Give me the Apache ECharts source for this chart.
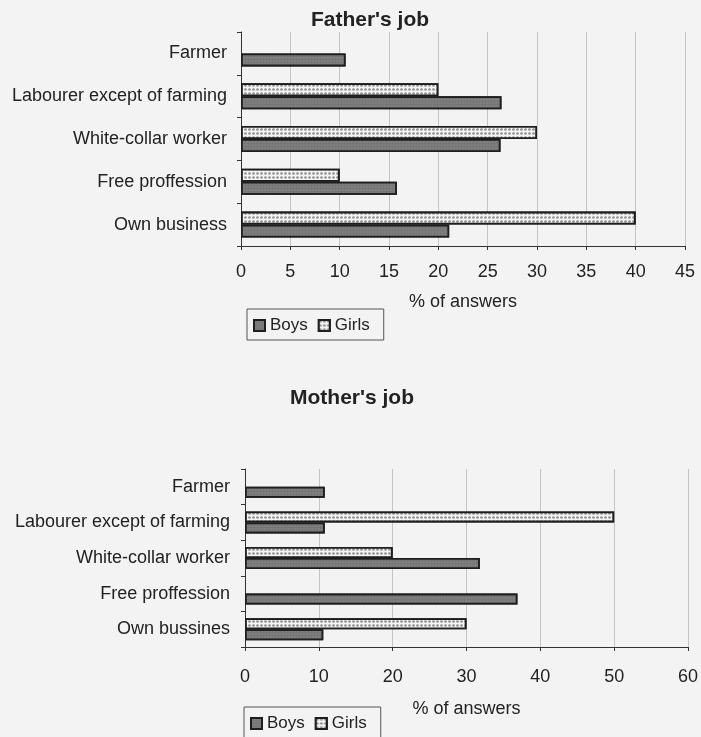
<!DOCTYPE html>
<html>
<head>
<meta charset="utf-8">
<script src="https://cdn.jsdelivr.net/npm/echarts@6/dist/echarts.min.js"></script>
<style>
  html, body { margin: 0; padding: 0; background: #f3f3f3; }
  #chart { width: 701px; height: 737px; }
</style>
</head>
<body>
<div id="chart"></div>
<script>
// Father's job (top panel), categories listed bottom to top
const fatherCategories = ['Own business', 'Free proffession', 'White-collar worker', 'Labourer except of farming', 'Farmer'];
const fatherBoys = [21.1, 15.8, 26.3, 26.4, 10.6];
const fatherGirls = [40, 10, 30, 20, null];
const fatherTicks = [0, 5, 10, 15, 20, 25, 30, 35, 40, 45];

// Mother's job (bottom panel), categories listed bottom to top
const motherCategories = ['Own bussines', 'Free proffession', 'White-collar worker', 'Labourer except of farming', 'Farmer'];
const motherBoys = [10.6, 36.9, 31.8, 10.8, 10.8];
const motherGirls = [30, null, 20, 50, null];
const motherTicks = [0, 10, 20, 30, 40, 50, 60];

const seriesNames = ['Boys', 'Girls'];

const fontFamily = '"Liberation Sans", Arial, sans-serif';
const textColor = '#222';

const boysStyle = {
  color: '#7a7a7a',
  borderColor: '#1e1e1e',
  borderWidth: 1.8,
  decal: {
    symbol: 'rect',
    symbolSize: 0.6,
    dashArrayX: [2, 1],
    dashArrayY: [2, 1],
    color: 'rgba(185,185,185,0.5)',
    backgroundColor: '#767676'
  }
};
const girlsStyle = {
  color: '#f2f2f2',
  borderColor: '#1e1e1e',
  borderWidth: 1.8,
  decal: {
    symbol: 'circle',
    symbolSize: 0.9,
    dashArrayX: [3, 1],
    dashArrayY: [3, 1],
    color: 'rgba(80,80,80,0.6)',
    backgroundColor: '#f4f4f4'
  }
};

function valueAxis(gridIndex, ticks, gap, margin) {
  return {
    type: 'value',
    gridIndex: gridIndex,
    min: ticks[0],
    max: ticks[ticks.length - 1],
    interval: ticks[1] - ticks[0],
    name: '% of answers',
    nameLocation: 'middle',
    nameGap: gap,
    nameTextStyle: { fontFamily: fontFamily, fontSize: 18, color: textColor },
    axisLine: { show: true, lineStyle: { color: '#333', width: 1 } },
    axisTick: { show: true, inside: false, length: 4, lineStyle: { color: '#333' } },
    axisLabel: { fontFamily: fontFamily, fontSize: 18, color: textColor, margin: margin },
    splitLine: { show: true, lineStyle: { color: '#c4c4c4', width: 1 } }
  };
}

function categoryAxis(gridIndex, cats, margin) {
  return {
    type: 'category',
    gridIndex: gridIndex,
    data: cats,
    axisLine: { show: true, lineStyle: { color: '#333', width: 1 } },
    axisTick: { show: true, inside: false, length: 4, alignWithLabel: false, lineStyle: { color: '#333' } },
    axisLabel: { fontFamily: fontFamily, fontSize: 18, color: textColor, margin: margin },
    splitLine: { show: false }
  };
}

function barSeries(name, axisIndex, data, style, width) {
  return {
    name: name,
    type: 'bar',
    xAxisIndex: axisIndex,
    yAxisIndex: axisIndex,
    data: data,
    barWidth: width,
    barGap: '0%',
    itemStyle: style,
    emphasis: { disabled: true }
  };
}

const legendBase = {
  orient: 'horizontal',
  itemWidth: 11,
  itemHeight: 11,
  itemGap: 10,
  icon: 'rect',
  borderColor: '#555',
  borderWidth: 1,
  padding: [8, 14, 6, 6],
  textStyle: { fontFamily: fontFamily, fontSize: 17, color: textColor }
};

const chart = echarts.init(document.getElementById('chart'), null, { renderer: 'canvas' });
chart.setOption({
  backgroundColor: '#f3f3f3',
  animation: false,
  title: [
    {
      text: "Father's job",
      left: 365, top: 5, textAlign: 'center',
      textStyle: { fontFamily: fontFamily, fontSize: 21, fontWeight: 'bold', color: '#222' }
    },
    {
      text: "Mother's job",
      left: 347, top: 383, textAlign: 'center',
      textStyle: { fontFamily: fontFamily, fontSize: 21, fontWeight: 'bold', color: '#222' }
    }
  ],
  legend: [
    Object.assign({}, legendBase, { data: seriesNames, left: 247, top: 309 }),
    Object.assign({}, legendBase, { data: seriesNames, left: 244, top: 707 })
  ],
  grid: [
    { left: 241, right: 16, top: 32, height: 214 },
    { left: 245, right: 11, top: 469, height: 178 }
  ],
  xAxis: [valueAxis(0, fatherTicks, 47, 17), valueAxis(1, motherTicks, 53, 21)],
  yAxis: [categoryAxis(0, fatherCategories, 14), categoryAxis(1, motherCategories, 15)],
  series: [
    // Girls listed first so that they sit above Boys within each category
    barSeries(seriesNames[1], 0, fatherGirls, girlsStyle, 13),
    barSeries(seriesNames[0], 0, fatherBoys, boysStyle, 13),
    barSeries(seriesNames[1], 1, motherGirls, girlsStyle, 11),
    barSeries(seriesNames[0], 1, motherBoys, boysStyle, 11)
  ]
});
</script>
</body>
</html>
